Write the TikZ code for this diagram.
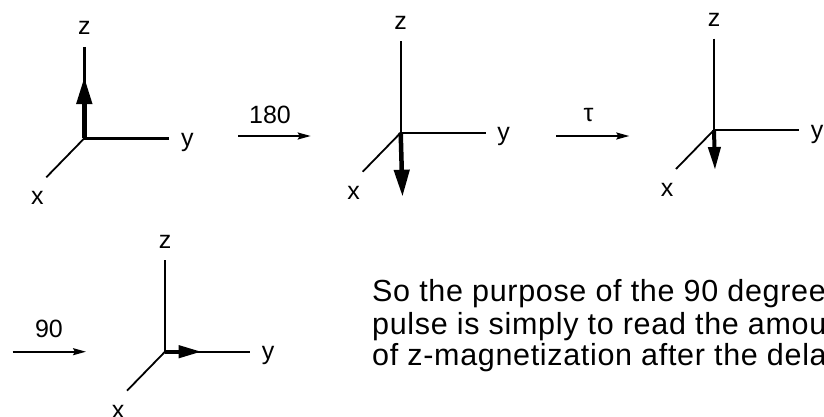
\documentclass[tikz,border=0pt]{standalone}
\usepackage{fontspec}
\setmainfont{Liberation Sans}
\usetikzlibrary{arrows.meta}

\begin{document}
\begin{tikzpicture}[x=1pt, y=-1pt,
    axis/.style={line width=2.4pt},
    xaxis/.style={line width=1.8pt},
    lbl/.style={inner sep=0pt, font=\fontsize{25}{30}\selectfont},
    pulse/.style={line width=1.8pt, -{Stealth[length=13pt, width=7pt, inset=2pt]}},
    magbig/.style={line width=4.5pt, -{Triangle[length=27pt, width=15pt]}},
    magsmall/.style={line width=4pt, -{Triangle[length=23pt, width=12pt]}},
    body/.style={inner sep=0pt, anchor=base west,
        font=\fontsize{30.5}{31.5}\selectfont\addfontfeatures{LetterSpace=2.2}}]
    \useasboundingbox (0,0) rectangle (824,416);

    % Axes of the four frames
    \foreach \n/\ox/\oy in {a/84.3/138.3, b/400.7/132.7, c/714/130, d/165/351.7}{
        \begin{scope}[shift={(\ox,\oy)}]
            \coordinate (\n-o) at (0,0);
            \coordinate (\n-ztop) at (0,-91.5);
            \coordinate (\n-yend) at (85,0);
            \coordinate (\n-xend) at (-38,39);
            \node[lbl] (\n-zl) at (0,-110) {z};
            \node[lbl] (\n-yl) at (103,4) {y};
            \node[lbl] (\n-xl) at (-47,60) {x};
            \draw[axis] (\n-ztop) -- (\n-o) -- (\n-yend);
            \draw[xaxis] (\n-o) -- (\n-xend);
        \end{scope}
    }

    % Magnetization
    \coordinate (a-m) at (84.3,77);
    \coordinate (b-m) at (402.5,196.7);
    \coordinate (c-m) at (715,170);
    \coordinate (d-m) at (201.7,351.7);
    \draw[magbig] (a-o) -- (a-m);
    \draw[magbig] (b-o) -- (b-m);
    \draw[magsmall] (c-o) -- (c-m);
    \draw[magsmall] (d-o) -- (d-m);

    % Pulses and delay
    \coordinate (p180-s) at (238.3,136);
    \coordinate (p180-e) at (310.7,136);
    \node[lbl] (p180-l) at (270,115) {180};
    \draw[pulse] (p180-s) -- (p180-e);

    \coordinate (tau-s) at (556,136);
    \coordinate (tau-e) at (629.3,136);
    \node[lbl] (tau-l) at (588.5,115) {τ};
    \draw[pulse] (tau-s) -- (tau-e);

    \coordinate (p90-s) at (12.7,351.7);
    \coordinate (p90-e) at (86,351.7);
    \node[lbl] (p90-l) at (49,329) {90};
    \draw[pulse] (p90-s) -- (p90-e);

    % Remark
    \node[body] (line1) at (372,301.7) {So the purpose of the 90 degree};
    \node[body] (line2) at (372,334) {pulse is simply to read the amount};
    \node[body] (line3) at (372,365) {of z-magnetization after the delay};
\end{tikzpicture}
\end{document}
